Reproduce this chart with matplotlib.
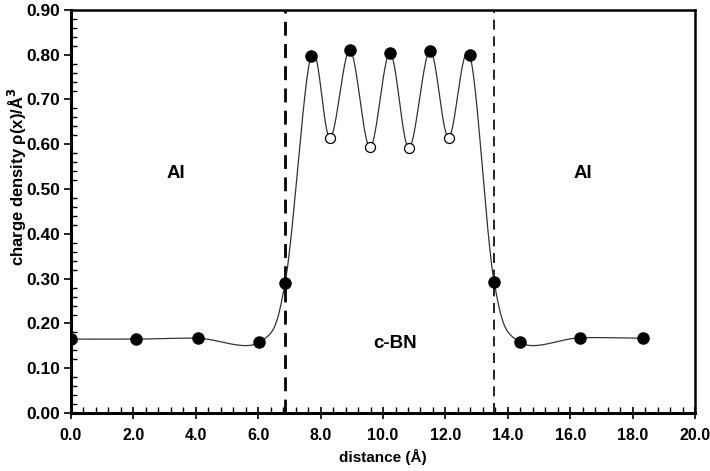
import numpy as np
import matplotlib
import matplotlib.pyplot as plt
from matplotlib.ticker import MultipleLocator, FormatStrFormatter

matplotlib.use("agg")

# charge density profile along the Al / c-BN / Al stack
distance = [0.0, 2.08, 4.07, 6.03, 6.86, 7.69, 8.30, 8.94, 9.58, 10.22,
            10.83, 11.50, 12.10, 12.78, 13.56, 14.39, 16.31, 18.33]
density = [0.165, 0.165, 0.167, 0.158, 0.290, 0.798, 0.614, 0.810, 0.593,
           0.804, 0.592, 0.809, 0.615, 0.799, 0.293, 0.158, 0.168, 0.167]
# minima inside the c-BN slab are drawn as open circles
is_open = [False, False, False, False, False, False, True, False, True,
           False, True, False, True, False, False, False, False, False]

interface_left = 6.86
interface_right = 13.56


def smooth_curve(xs, ys, n=40):
    # excel-style smoothed line (catmull-rom through every point)
    xs = np.asarray(xs, float)
    ys = np.asarray(ys, float)
    px = np.concatenate([[2 * xs[0] - xs[1]], xs, [2 * xs[-1] - xs[-2]]])
    py = np.concatenate([[2 * ys[0] - ys[1]], ys, [2 * ys[-1] - ys[-2]]])
    out_x, out_y = [], []
    t = np.linspace(0, 1, n)
    for i in range(1, len(px) - 2):
        for arr, out in ((px, out_x), (py, out_y)):
            p0, p1, p2, p3 = arr[i - 1], arr[i], arr[i + 1], arr[i + 2]
            m1 = (p2 - p0) / 6.0
            m2 = (p3 - p1) / 6.0
            c1 = p1 + m1
            c2 = p2 - m2
            out.extend((1 - t) ** 3 * p1 + 3 * (1 - t) ** 2 * t * c1
                       + 3 * (1 - t) * t ** 2 * c2 + t ** 3 * p2)
    return out_x, out_y


plt.rcParams["font.family"] = ["Liberation Sans", "DejaVu Sans"]
plt.rcParams["font.weight"] = "bold"

fig = plt.figure(figsize=(7.1, 4.71), dpi=100)
ax = fig.add_axes([0.100, 0.123, 0.879, 0.856])

cx, cy = smooth_curve(distance, density)
ax.plot(cx, cy, color="#333333", lw=0.9, zorder=2)

for x, y, o in zip(distance, density, is_open):
    if o:
        ax.plot(x, y, "o", ms=7.2, mfc="white", mec="black", mew=0.9, zorder=3)
    else:
        ax.plot(x, y, "o", ms=8, mfc="black", mec="black", zorder=3)

ax.axvline(interface_left, color="black", lw=2.0, dashes=(5, 3), zorder=1)
ax.axvline(interface_right, color="black", lw=1.2, dashes=(6, 4), zorder=1)

ax.text(3.35, 0.535, "Al", ha="center", va="center", fontsize=13.5, fontweight="bold")
ax.text(16.4, 0.535, "Al", ha="center", va="center", fontsize=13.5, fontweight="bold")
ax.text(10.4, 0.156, "c-BN", ha="center", va="center", fontsize=13.5, fontweight="bold")

ax.set_xlim(0, 20)
ax.set_ylim(0, 0.9)
ax.xaxis.set_major_locator(MultipleLocator(2))
ax.xaxis.set_minor_locator(MultipleLocator(0.4))
ax.yaxis.set_major_locator(MultipleLocator(0.1))
ax.yaxis.set_minor_locator(MultipleLocator(0.02))
ax.xaxis.set_major_formatter(FormatStrFormatter("%.1f"))
ax.yaxis.set_major_formatter(FormatStrFormatter("%.2f"))

ax.tick_params(axis="x", which="major", direction="inout", length=8, width=1.2,
               labelsize=11.5, pad=7)
ax.tick_params(axis="x", which="minor", direction="in", length=4, width=1)
ax.tick_params(axis="y", which="major", direction="out", length=5, width=1.2,
               labelsize=12.5, pad=3)
ax.tick_params(axis="y", which="minor", direction="in", length=4, width=1)
for lab in ax.get_xticklabels() + ax.get_yticklabels():
    lab.set_fontweight("bold")

for side in ["left", "bottom"]:
    ax.spines[side].set_linewidth(2.2)
for side in ["top", "right"]:
    ax.spines[side].set_linewidth(1.8)

ax.set_xlabel("distance (Å)", fontsize=11, fontweight="bold", labelpad=4)
ax.set_ylabel("charge density ρ(x)/Å$^\\mathbf{3}$", fontsize=12,
              fontweight="bold", labelpad=4)
ax.yaxis.set_label_coords(-0.068, 0.585)

plt.savefig("out.png", dpi=100)
